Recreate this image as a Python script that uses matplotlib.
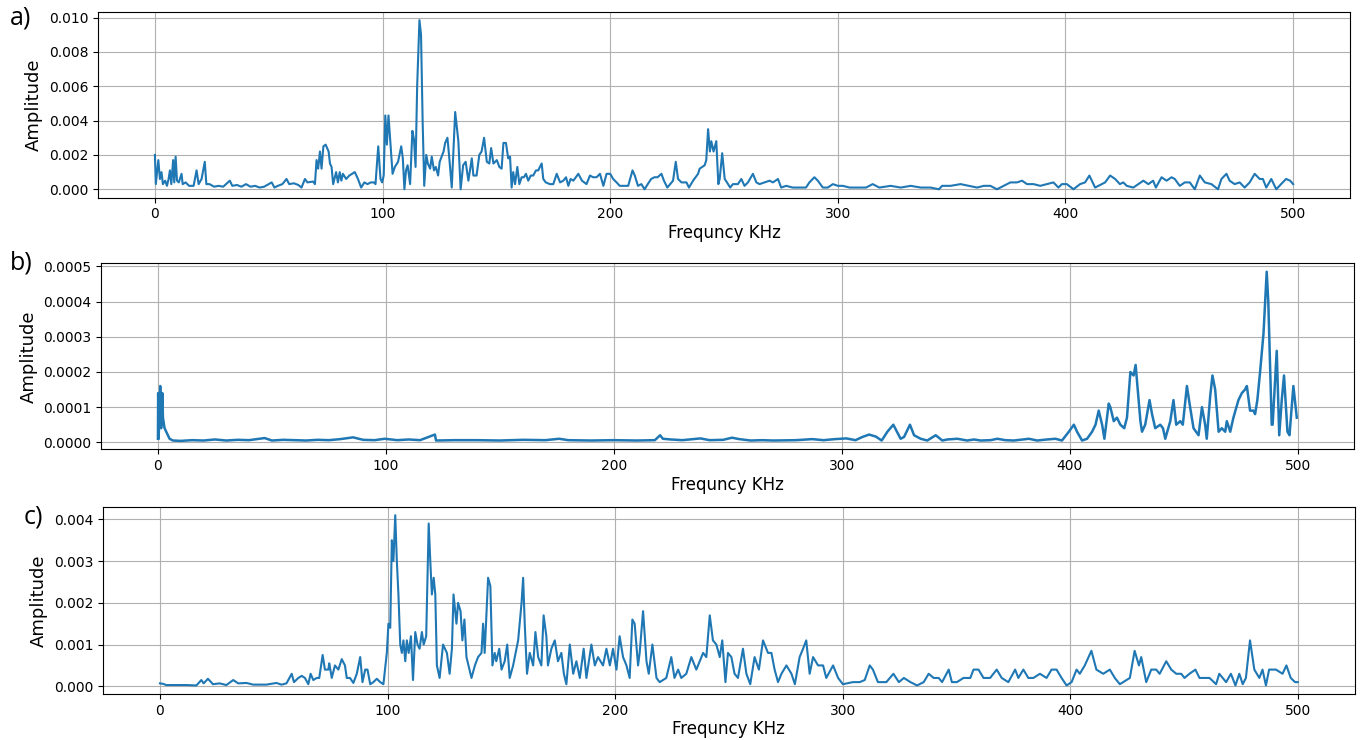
import numpy as np
import matplotlib
matplotlib.use("Agg")
import matplotlib.pyplot as plt

# panel a) frequency (kHz) / amplitude (x1e-3)
a_freq = [0, 0.4, 1.5, 2.2, 2.9, 3.5, 4.5, 5.3, 6.0, 6.6, 7.2, 8.0, 8.5, 9.1, 9.7, 10.5, 11.7, 12.2, 13.5, 15,
          17, 18.3, 19.2, 20.5, 21.9, 22.6, 24, 26, 28, 30, 32.9, 34, 36, 38, 40, 42, 44, 46, 48, 51.3,
          52.5, 54, 56, 57.8, 59, 61, 63, 64.4, 65.9, 67, 69.5, 70.3, 71.0, 71.7, 72.5, 73.2, 74.0, 75.0, 76.3, 76.9,
          77.6, 78.3, 79.6, 80.4, 81.2, 81.9, 82.6, 84, 85.4, 87.8, 89.2, 90.6, 92, 93.4, 94.8, 96.2, 96.9, 98.1, 99.1, 99.8,
          100.5, 101.2, 101.9, 102.6, 103.3, 104.0, 104.4, 105.4, 106.8, 108.2, 108.9, 109.6, 110.3, 111.0, 112.1, 113.1, 113.8, 114.5, 115.2, 116.2,
          116.9, 117.6, 118.3, 119.2, 119.9, 120.9, 121.6, 122.6, 123.4, 124.4, 125.1, 126.8, 127.5, 128.5, 129.2, 130.4, 131.9, 133.3, 134.3, 135.4,
          136.5, 137.7, 139.2, 139.9, 141.3, 142.5, 143.5, 144.6, 145.8, 146.9, 147.7, 148.7, 150.2, 151.3, 152.3, 153.1, 154.2, 155.2, 156.0, 156.7,
          157.4, 158.2, 159.2, 160.1, 161.1, 162.1, 163.0, 164.0, 165.1, 166.2, 167.4, 168.4, 169.1, 169.9, 170.6, 171.7, 173.5, 175.0, 176.5, 178.0,
          179.4, 180.6, 181.6, 182.6, 183.8, 186.0, 187.6, 189.6, 191.1, 192.5, 194.0, 195.5, 197.0, 198.4, 200.0, 201.3, 202.8, 204.2, 206.4, 207.9,
          209.8, 210.8, 212.2, 213.7, 215.1, 216.5, 218.0, 219.4, 220.8, 222.5, 223.6, 225.1, 227.6, 228.8, 229.8, 231.3, 233.5, 234.6, 236.4, 238.6,
          239.3, 241.5, 242.2, 243.0, 243.8, 244.4, 245.4, 246.6, 247.5, 248.1, 249.2, 250.3, 251.3, 252.7, 253.9, 256.1, 257.6, 259.0, 260.5, 262.7,
          264.2, 265.6, 267.8, 270.0, 271.5, 273.7, 275.1, 277.3, 280.2, 283.1, 286.0, 287.5, 289.7, 291.2, 293.4, 295.6, 297.8, 300.0, 302.2, 305.1,
          309.5, 312.4, 315.3, 318.2, 323.2, 327.6, 332.0, 336.4, 340.7, 344.4, 345.8, 349.5, 353.9, 357.5, 361.2, 364.1, 367.0, 369.9, 372.8, 375.8,
          378.7, 380.9, 383.1, 386.0, 388.9, 391.8, 394.7, 396.9, 398.4, 400.6, 403.5, 406.4, 408.6, 410.5, 413.0, 415.9, 417.4, 419.6, 421.8, 423.9,
          425.4, 426.9, 429.8, 434.2, 436.4, 438.5, 439.7, 442.2, 444.4, 446.6, 448.0, 450.2, 452.4, 454.6, 456.8, 459.0, 461.2, 464.1, 467.0, 468.5,
          470.7, 472.1, 474.3, 476.5, 478.7, 480.9, 483.1, 485.3, 486.7, 488.2, 490.4, 492.6, 494.7, 496.9, 498.7, 500.0]
a_amp = [2.0, 0.3, 1.7, 0.6, 1.0, 0.3, 0.5, 0.2, 0.6, 1.1, 0.3, 1.7, 0.4, 1.9, 0.5, 0.4, 0.9, 0.3, 0.4, 0.2,
         0.2, 1.1, 0.3, 0.6, 1.6, 0.3, 0.3, 0.15, 0.2, 0.15, 0.5, 0.2, 0.25, 0.15, 0.3, 0.15, 0.2, 0.1, 0.15, 0.4,
         0.1, 0.2, 0.3, 0.6, 0.3, 0.35, 0.25, 0.1, 0.6, 0.4, 0.45, 0.3, 1.7, 1.2, 2.2, 1.2, 2.5, 2.6, 2.2, 1.5,
         1.3, 0.3, 1.0, 0.4, 1.0, 0.5, 0.9, 0.6, 0.8, 1.0, 0.6, 0.1, 0.4, 0.3, 0.4, 0.4, 0.3, 2.5, 0.6, 0.4,
         0.8, 4.3, 2.6, 4.3, 3.0, 1.7, 0.9, 1.3, 1.6, 2.5, 1.8, 0.0, 1.1, 1.4, 0.3, 3.4, 2.9, 1.3, 6.0, 9.85,
         9.0, 4.0, 0.2, 2.0, 1.5, 1.2, 1.9, 1.1, 1.3, 0.8, 1.6, 2.2, 2.7, 3.0, 2.0, 0.1, 4.5, 2.8, 0.0, 1.4,
         1.6, 0.5, 1.8, 0.8, 0.8, 2.0, 2.2, 3.0, 1.6, 1.5, 2.4, 1.5, 1.7, 1.3, 1.2, 2.7, 2.7, 1.8, 1.9, 0.1,
         1.0, 0.3, 1.3, 0.3, 0.7, 0.7, 0.9, 0.5, 0.8, 0.8, 1.1, 1.1, 1.3, 1.5, 0.6, 0.4, 0.3, 0.3, 0.9, 0.4,
         0.5, 0.7, 0.2, 0.6, 0.5, 0.9, 0.5, 0.3, 0.8, 0.7, 0.7, 0.9, 0.2, 0.9, 0.9, 0.6, 0.4, 0.2, 0.2, 0.2,
         1.1, 0.8, 0.2, 0.3, 0.0, 0.3, 0.6, 0.7, 0.7, 0.9, 0.5, 0.1, 0.5, 1.6, 0.6, 0.4, 0.4, 0.1, 0.5, 0.9,
         1.2, 1.4, 1.7, 3.5, 2.2, 2.8, 2.2, 2.8, 0.3, 0.6, 2.1, 0.6, 0.4, 0.1, 0.3, 0.3, 0.6, 0.2, 0.4, 0.9,
         0.4, 0.3, 0.4, 0.5, 0.4, 0.6, 0.1, 0.2, 0.1, 0.1, 0.1, 0.4, 0.7, 0.5, 0.1, 0.1, 0.3, 0.2, 0.2, 0.1,
         0.1, 0.1, 0.3, 0.1, 0.2, 0.1, 0.2, 0.1, 0.1, 0.0, 0.2, 0.2, 0.3, 0.2, 0.1, 0.2, 0.2, 0.0, 0.2, 0.4,
         0.4, 0.5, 0.3, 0.3, 0.2, 0.3, 0.4, 0.1, 0.3, 0.3, 0.0, 0.3, 0.4, 0.8, 0.1, 0.3, 0.4, 0.8, 0.6, 0.3,
         0.4, 0.2, 0.1, 0.5, 0.3, 0.5, 0.1, 0.7, 0.5, 0.7, 0.6, 0.2, 0.4, 0.4, 0.0, 0.8, 0.4, 0.3, 0.0, 0.6,
         0.9, 0.5, 0.3, 0.4, 0.1, 0.4, 0.9, 0.6, 0.6, 0.1, 0.6, 0.0, 0.3, 0.6, 0.5, 0.3]

# panel b) frequency (kHz) / amplitude (x1e-5)
b_freq = [0, 0.1, 0.3, 1.0, 1.4, 1.9, 2.2, 2.9, 4.4, 5.1, 6.6, 10, 15, 20, 25, 30, 35, 40, 46.8, 50,
          55, 60, 65, 70, 75, 80, 85.6, 90, 95, 99.5, 105, 110, 115, 121.5, 122, 130, 140, 150, 160, 170,
          176, 180, 190, 200, 210, 218, 220.3, 221.5, 225, 230, 238, 242, 248, 251.8, 255, 260, 265, 270, 280, 287,
          292, 297, 302, 306, 309, 312, 315, 317.5, 320, 322.6, 325.8, 327.3, 329.9, 331.7, 334.6, 337.5, 341.2, 344.1, 346.3, 350.7,
          355, 358, 360.9, 365.3, 368.2, 371.8, 375.5, 382.1, 385.7, 390.1, 393.7, 396.6, 399.6, 401.8, 403.2, 405.4, 407.6, 409.8, 411.3, 412.7,
          414.2, 415.2, 417.1, 417.8, 419.3, 420.7, 422.2, 423.9, 425.1, 426.6, 428.0, 428.9, 429.8, 431.0, 431.7, 433.1, 435.0, 436.1, 437.5, 439.7,
          440.9, 441.9, 444.1, 445.5, 446.7, 448.5, 449.6, 451.4, 452.8, 454.3, 456.5, 458.0, 459.4, 460.1, 461.6, 462.6, 463.8, 465.3, 466.7, 468.2,
          468.9, 470.4, 471.8, 474.0, 475.5, 476.9, 477.7, 479.1, 480.6, 481.3, 482.3, 483.5, 485.0, 486.4, 487.1, 488.6, 489.0, 490.8, 491.9, 493.0,
          494.0, 495.5, 496.4, 498.1, 499.6]
b_amp = [1, 14, 1, 16, 4, 14, 7, 4, 2, 1, 0.5, 0.4, 0.6, 0.5, 0.8, 0.5, 0.7, 0.6, 1.2, 0.5,
         0.7, 0.6, 0.5, 0.7, 0.6, 0.9, 1.4, 0.7, 0.6, 1.0, 0.6, 0.8, 0.6, 2.2, 0.5, 0.6, 0.6, 0.5, 0.7, 0.6,
         1.0, 0.6, 0.5, 0.6, 0.5, 0.6, 2.0, 1.0, 0.8, 0.6, 1.1, 0.6, 0.7, 1.3, 0.9, 0.5, 0.6, 0.5, 0.6, 0.9,
         0.6, 0.9, 1.1, 0.6, 1.5, 2.2, 1.6, 0.5, 3.0, 5.0, 1.0, 1.5, 5.0, 2.0, 1.0, 0.5, 2.0, 0.5, 0.8, 1.0,
         0.5, 0.8, 0.5, 0.6, 1.0, 0.6, 0.5, 1.0, 0.5, 0.8, 1.0, 0.5, 3.0, 5.0, 3.0, 0.5, 1.0, 3.0, 5.0, 9.0,
         5.0, 1.0, 11.0, 10.0, 6.0, 7.0, 5.0, 4.0, 7.0, 20.0, 19.0, 22.0, 15.0, 6.0, 3.0, 5.0, 12.0, 8.0, 4.0, 5.0,
         4.0, 1.0, 6.0, 12.0, 5.0, 6.0, 5.0, 16.0, 10.0, 4.0, 2.0, 10.0, 5.0, 1.0, 13.0, 19.0, 15.0, 3.0, 4.0, 3.0,
         6.0, 3.0, 7.0, 12.0, 14.0, 15.0, 16.0, 9.0, 9.0, 8.0, 12.0, 20.0, 31.0, 48.5, 40.0, 5.0, 5.0, 26.0, 2.0, 12.0,
         19.0, 3.0, 2.0, 16.0, 7.0]

# panel c) frequency (kHz) / amplitude (x1e-3)
c_freq = [0, 1.3, 2.8, 7.2, 11.6, 16, 18.2, 19.2, 21.1, 23.3, 26.3, 29.2, 32.2, 34.4, 38.0, 41.0, 46.8, 51.2, 53.4, 55.6,
          57.9, 58.9, 60.8, 62.3, 63.7, 65.2, 66.2, 67.4, 68.9, 70.0, 71.5, 72.5, 74.0, 74.4, 75.5, 76.9, 78.4, 79.9, 81.3, 82.1,
          83.5, 85.0, 86.5, 88.0, 89.0, 90.2, 91.2, 92.4, 93.8, 95.3, 96.8, 98.2, 99.7, 100.4, 101.2, 101.9, 102.6, 103.4, 104.1, 104.8,
          105.6, 106.3, 107.0, 107.8, 108.5, 109.3, 110.3, 111.2, 112.2, 113.2, 114.1, 115.1, 115.9, 117.0, 118.1, 118.8, 119.5, 120.3, 121.0, 121.7,
          122.9, 124.4, 126.1, 127.3, 128.3, 129.0, 130.3, 131.0, 132.1, 132.9, 133.8, 134.7, 136.9, 138.4, 139.8, 141.3, 142.0, 142.7, 144.2, 145.2,
          146.1, 147.1, 147.8, 149.1, 150.1, 151.5, 152.6, 153.7, 155.2, 157.4, 158.9, 159.6, 160.3, 161.3, 162.5, 164.0, 165.0, 166.2, 167.6, 168.6,
          169.8, 170.5, 172.0, 173.5, 174.9, 176.4, 177.5, 178.6, 180.1, 181.6, 183.0, 184.5, 186.2, 187.4, 189.6, 191.1, 192.5, 194.7, 196.2, 197.7,
          199.1, 200.6, 202.0, 203.5, 205.0, 206.4, 207.6, 208.6, 210.1, 210.8, 212.3, 213.8, 214.8, 216.4, 218.2, 219.6, 222.5, 224.7, 226.1, 227.7,
          229.1, 231.3, 233.5, 235.7, 238.7, 240.1, 241.6, 243.0, 244.5, 246.0, 247.1, 248.5, 249.6, 251.1, 252.5, 254.0, 256.2, 257.7, 259.4, 261.3,
          263.2, 265.0, 267.2, 268.7, 270.1, 271.6, 273.1, 275.3, 277.5, 279.0, 281.1, 282.6, 284.0, 285.5, 287.0, 289.2, 291.4, 292.8, 295.8, 298.0,
          300.1, 304.5, 307.5, 309.7, 311.9, 313.3, 315.5, 319.2, 322.3, 324.7, 326.9, 329.8, 332.7, 335.6, 337.8, 340.0, 342.2, 343.7, 346.6, 348.0,
          350.2, 353.1, 356.1, 357.5, 359.7, 361.9, 364.8, 367.7, 369.9, 372.8, 375.8, 377.2, 379.4, 381.6, 383.8, 386.7, 389.6, 391.8, 394.0, 396.2,
          398.4, 400.6, 402.8, 404.2, 406.4, 409.3, 411.5, 414.5, 417.4, 419.6, 421.8, 424.7, 426.2, 428.3, 430.2, 431.2, 433.4, 435.6, 437.8, 439.3,
          442.2, 444.4, 446.6, 448.8, 450.2, 452.4, 455.0, 456.8, 461.2, 464.1, 465.5, 468.5, 470.6, 472.6, 474.3, 475.8, 477.2, 479.0, 480.9, 483.1,
          484.5, 486.0, 487.4, 490.4, 493.3, 495.0, 496.9, 498.8, 500.0]
c_amp = [0.07, 0.06, 0.03, 0.03, 0.03, 0.02, 0.15, 0.07, 0.18, 0.05, 0.07, 0.03, 0.15, 0.07, 0.08, 0.04, 0.04, 0.08, 0.04, 0.07,
         0.3, 0.1, 0.2, 0.25, 0.2, 0.05, 0.3, 0.15, 0.2, 0.2, 0.75, 0.4, 0.4, 0.55, 0.2, 0.5, 0.4, 0.65, 0.5, 0.2,
         0.2, 0.08, 0.3, 0.7, 0.1, 0.4, 0.4, 0.05, 0.1, 0.18, 0.1, 0.05, 0.8, 1.5, 1.4, 3.5, 3.0, 4.1, 3.0, 2.2,
         1.0, 0.8, 1.1, 0.6, 1.1, 0.8, 1.2, 0.15, 1.3, 1.0, 0.9, 1.3, 1.0, 1.2, 3.9, 3.0, 2.2, 2.6, 2.2, 0.5,
         0.2, 1.0, 0.8, 0.3, 0.9, 2.2, 1.5, 2.0, 1.8, 1.1, 1.6, 0.7, 0.2, 0.5, 0.7, 0.8, 1.5, 0.8, 2.6, 2.4,
         0.5, 0.8, 0.6, 0.9, 0.4, 0.6, 1.0, 0.2, 0.5, 1.1, 2.0, 2.6, 1.5, 0.3, 0.8, 0.5, 1.3, 0.7, 0.5, 1.7,
         1.2, 0.5, 0.9, 1.1, 0.6, 0.8, 0.3, 0.05, 1.0, 0.3, 0.6, 0.2, 0.9, 0.2, 1.0, 0.5, 0.7, 0.5, 0.9, 0.5,
         0.9, 0.4, 1.2, 0.7, 0.5, 0.2, 1.6, 1.5, 0.5, 0.8, 1.8, 0.6, 0.3, 1.0, 0.2, 0.1, 0.2, 0.7, 0.2, 0.4,
         0.2, 0.3, 0.7, 0.4, 0.8, 0.7, 1.7, 1.1, 1.0, 0.7, 1.1, 0.1, 0.8, 0.7, 0.3, 0.2, 0.9, 0.3, 0.05, 0.7,
         0.4, 1.1, 0.8, 0.8, 0.4, 0.1, 0.3, 0.5, 0.3, 0.05, 0.7, 0.9, 1.1, 0.3, 0.7, 0.5, 0.5, 0.2, 0.5, 0.2,
         0.05, 0.1, 0.1, 0.15, 0.5, 0.4, 0.1, 0.1, 0.3, 0.1, 0.2, 0.1, 0.02, 0.1, 0.3, 0.2, 0.2, 0.1, 0.4, 0.1,
         0.1, 0.2, 0.2, 0.4, 0.4, 0.2, 0.2, 0.4, 0.2, 0.1, 0.4, 0.2, 0.4, 0.2, 0.2, 0.3, 0.2, 0.4, 0.4, 0.2,
         0.02, 0.1, 0.4, 0.3, 0.5, 0.85, 0.4, 0.3, 0.4, 0.2, 0.05, 0.15, 0.2, 0.85, 0.5, 0.7, 0.1, 0.4, 0.4, 0.3,
         0.6, 0.4, 0.3, 0.3, 0.2, 0.3, 0.4, 0.2, 0.2, 0.05, 0.3, 0.1, 0.3, 0.02, 0.3, 0.05, 0.2, 1.1, 0.4, 0.2,
         0.4, 0.02, 0.4, 0.4, 0.3, 0.5, 0.2, 0.1, 0.1]

panels = [
    ("a)", a_freq, np.array(a_amp) * 1e-3, [0.0719, 0.7328, 0.9186, 0.2514], (10, 18), 1.5),
    ("b)", b_freq, np.array(b_amp) * 1e-5, [0.0741, 0.3928, 0.9191, 0.2514], (10, 263), 1.8),
    ("c)", c_freq, np.array(c_amp) * 1e-3, [0.0756, 0.0622, 0.9183, 0.2531], (24, 517), 1.5),
]

fig = plt.figure(figsize=(13.63, 7.40), dpi=100)

for lab, f, amp, rect, lpos, lw in panels:
    ax = fig.add_axes(rect)
    ax.plot(f, amp, color="#1f77b4", lw=lw)
    ax.grid(True)
    ax.tick_params(labelsize=10)
    ax.set_xlabel("Frequncy KHz", fontsize=12, labelpad=2)
    ax.set_ylabel("Amplitude", fontsize=13)
    fig.text(lpos[0] / 1363, 1 - lpos[1] / 740, lab, fontsize=18, family="Open Sans",
             va="center", ha="left")

fig.savefig("out.png", dpi=100)
